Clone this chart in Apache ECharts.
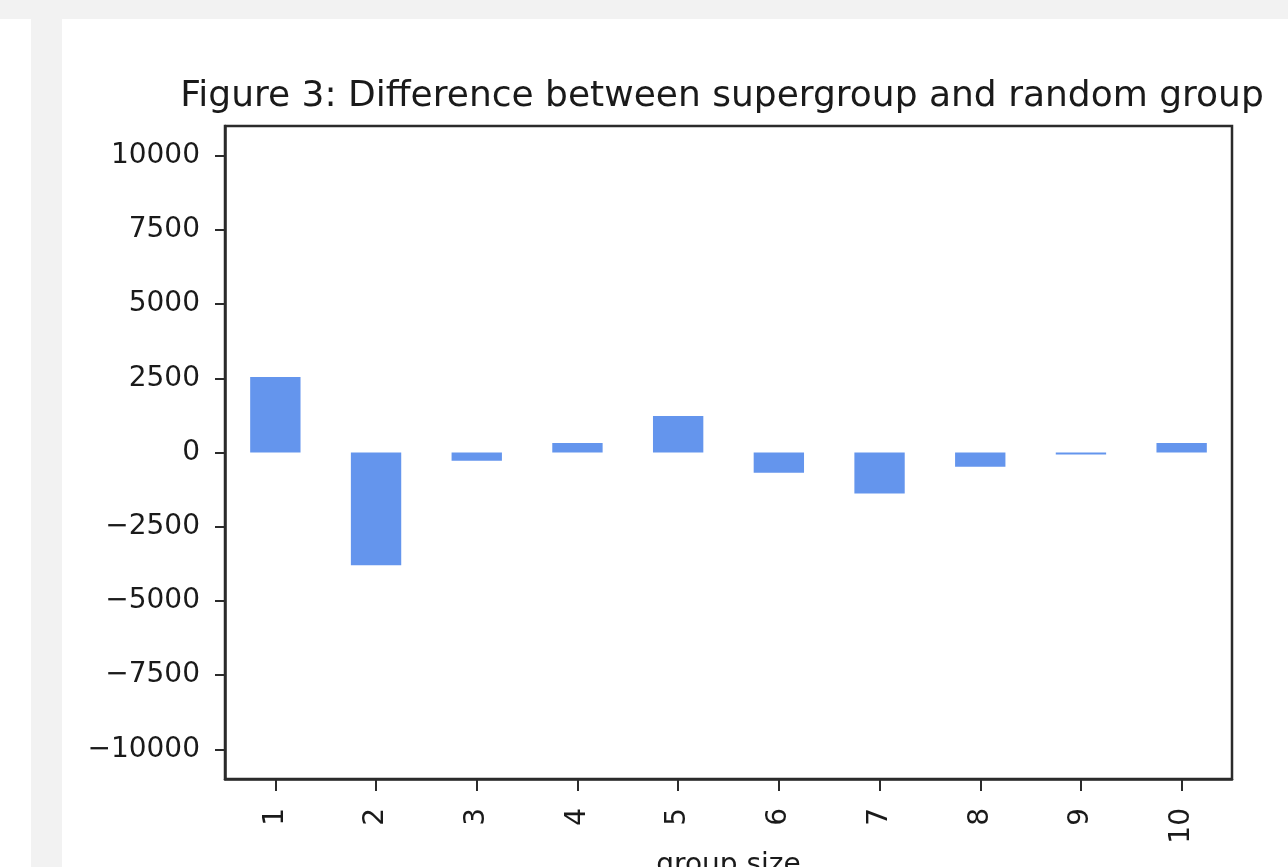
<!DOCTYPE html>
<html>
<head>
<meta charset="utf-8">
<title>Figure 3</title>
<script src="https://cdn.jsdelivr.net/npm/echarts@6.0.0/dist/echarts.min.js"></script>
<style>
  html, body { margin: 0; padding: 0; background: #fff; }
  #chart { width: 1288px; height: 867px; }
</style>
</head>
<body>
<div id="chart"></div>
<script>
// group sizes on the x axis
var groupSizes = ['1', '2', '3', '4', '5', '6', '7', '8', '9', '10'];
// supergroup minus random group
var diffValues = [2540, -3800, -275, 320, 1230, -680, -1385, -477, -70, 320];
// y tick positions
var yTicks = [-10000, -7500, -5000, -2500, 0, 2500, 5000, 7500, 10000];

var textColor = '#1a1a1a';
var lineColor = '#2b2b2b';
var fontFamily = 'DejaVu Sans';

var myChart = echarts.init(document.getElementById('chart'));

var option = {
    backgroundColor: '#ffffff',
    animation: false,
    // page chrome around the embedded figure
    graphic: [
        { type: 'rect', shape: { x: 0, y: 0, width: 1288, height: 19 }, style: { fill: '#f2f2f2' }, silent: true },
        { type: 'rect', shape: { x: 31, y: 19, width: 31, height: 848 }, style: { fill: '#f2f2f2' }, silent: true }
    ],
    title: {
        text: 'Figure 3: Difference between supergroup and random group',
        left: 722,
        top: 79,
        textAlign: 'center',
        padding: 0,
        textStyle: { fontFamily: fontFamily, fontSize: 36, fontWeight: 'normal', color: textColor }
    },
    grid: {
        left: 225, right: 56, top: 126, bottom: 88,
        show: true,
        borderColor: lineColor,
        borderWidth: 2.5,
        outerBoundsMode: 'none'
    },
    xAxis: {
        type: 'category',
        data: groupSizes,
        name: 'group size',
        nameLocation: 'middle',
        nameGap: 73,
        nameTextStyle: { fontFamily: fontFamily, fontSize: 28, color: textColor },
        axisLine: { show: true, onZero: false, lineStyle: { color: lineColor, width: 2.5 } },
        axisTick: { show: true, alignWithLabel: true, length: 12, lineStyle: { color: lineColor, width: 2 } },
        axisLabel: { rotate: 90, margin: 29, fontFamily: fontFamily, fontSize: 28, color: textColor, interval: 0 },
        splitLine: { show: false }
    },
    yAxis: {
        type: 'value',
        min: -11000,
        max: 11000,
        axisLine: { show: true, lineStyle: { color: lineColor, width: 2.5 } },
        axisTick: { show: true, length: 10, lineStyle: { color: lineColor, width: 2 }, customValues: yTicks },
        axisLabel: {
            margin: 25, fontFamily: fontFamily, fontSize: 28, color: textColor,
            customValues: yTicks,
            formatter: function (value) {
                return value < 0 ? '\u2212' + Math.abs(value) : String(value);
            }
        },
        splitLine: { show: false }
    },
    series: [
        {
            type: 'bar',
            data: diffValues,
            barWidth: '50%',
            itemStyle: { color: '#6495ED' }
        }
    ]
};

myChart.setOption(option);
</script>
</body>
</html>
